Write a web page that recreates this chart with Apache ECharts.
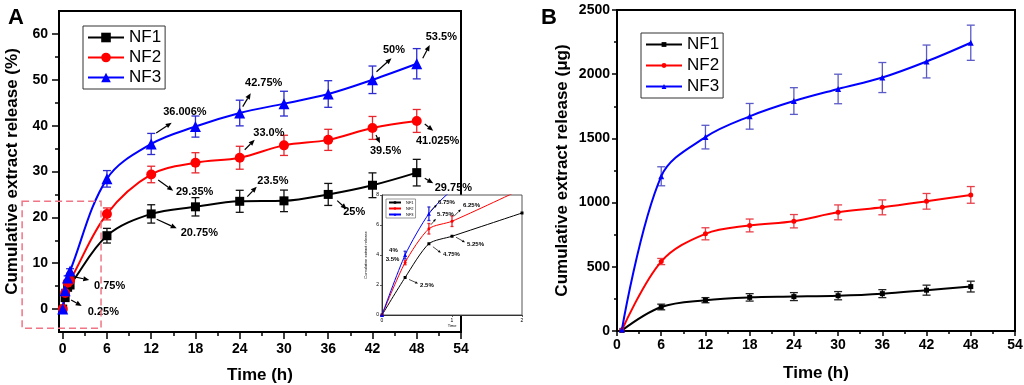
<!DOCTYPE html>
<html>
<head>
<meta charset="utf-8">
<title>Cumulative extract release</title>
<script src="https://cdn.jsdelivr.net/npm/echarts@6.0.0/dist/echarts.min.js"></script>
<style>
  html, body { margin: 0; padding: 0; background: #fff; }
  #chart { width: 1024px; height: 385px; }
</style>
</head>
<body>
<div id="chart"></div>
<script>
// panel A (%)
const timeA = [0, 0.33, 0.67, 1, 6, 12, 18, 24, 30, 36, 42, 48];
const nf1A = [0, 2.5, 4.75, 5.25, 16, 20.75, 22.3, 23.5, 23.6, 25, 27, 29.75];
const nf2A = [0, 3.5, 5.75, 6.25, 20.75, 29.35, 31.9, 33.0, 35.7, 36.9, 39.5, 41.025];
const nf3A = [0, 4, 6.75, 8.3, 28.4, 36.006, 39.8, 42.75, 44.8, 46.9, 50, 53.5];
const nf1AErr = [0, 0.3, 0.3, 0.4, 1.6, 2.0, 2.0, 2.4, 2.35, 2.4, 2.7, 2.9];
const nf2AErr = [0, 0.3, 0.4, 0.4, 1.3, 1.8, 2.2, 2.5, 2.2, 2.3, 2.5, 2.5];
const nf3AErr = [0, 0.3, 0.5, 0.5, 1.8, 2.3, 2.3, 2.8, 2.7, 2.9, 3.0, 3.3];
const xTicksA = [0, 6, 12, 18, 24, 30, 36, 42, 48, 54];
const xMinorA = [3, 9, 15, 21, 27, 33, 39, 45, 51];
const yTicksA = [0, 10, 20, 30, 40, 50, 60];
const yMinorA = [5, 15, 25, 35, 45, 55];
const zoomBoxA = [[-5.5, 23.5], [5.2, -4.2]];
const notesA = [
  [12, 36, '36.006%'], [24, 42.75, '42.75%'], [42, 50, '50%'], [48, 53.5, '53.5%'],
  [24, 33, '33.0%'], [42, 39.5, '39.5%'], [48, 41.025, '41.025%'], [12, 29.35, '29.35%'],
  [24, 23.5, '23.5%'], [12, 20.75, '20.75%'], [36, 25, '25%'], [48, 29.75, '29.75%'],
  [1, 5.25, '0.75%'], [0.33, 2.5, '0.25%']
];

// panel B (µg)
const timeB = [0.67, 6, 12, 18, 24, 30, 36, 42, 48];
const nf1B = [5, 187, 240, 262, 268, 275, 291, 318, 346];
const nf2B = [8, 541, 757, 822, 855, 924, 963, 1010, 1060];
const nf3B = [12, 1205, 1510, 1672, 1791, 1885, 1974, 2099, 2245];
const nf1BErr = [0, 22, 20, 29, 31, 32, 31, 39, 42];
const nf2BErr = [0, 24, 47, 50, 52, 58, 58, 61, 65];
const nf3BErr = [0, 74, 92, 100, 104, 115, 117, 128, 137];

// inset of panel A (first hour)
const timeIn = [0, 0.33, 0.67, 1, 2];
const nf1In = [0, 2.5, 4.75, 5.25, 6.8];
const nf2In = [0, 3.5, 5.75, 6.25, 8.4];
const nf3In = [0, 4, 6.75, 8.3, 11];
const nf2InErr = [0, 0.15, 0.35, 0.35, 0];
const nf3InErr = [0, 0.25, 0.45, 0, 0];
const notesIn = [
  [0.33, 2.5, '2.5%'], [0.67, 4.75, '4.75%'], [1, 5.25, '5.25%'], [0.33, 3.5, '3.5%'],
  [0.33, 4, '4%'], [0.67, 5.75, '5.75%'], [0.67, 6.75, '6.75%'], [1, 6.25, '6.25%']
];

// pixel offsets of arrows / texts from their point: [ax1, ay1, ax2, ay2, tx, ty]
const notesALayout = [
  [5, -11, 20.5, -21.3, 12, -32], [3, -6.4, 11, -19.8, 5.3, -30.4],
  [4, -8, 19, -21.5, 10.5, -29.8], [6, -5.4, 13, -18.7, 9, -27],
  [5, -8, 15, -18, 13.6, -24.5], [3.5, 7, 7.5, 15.4, -2.5, 22.8],
  [8, 3, 16.5, 9.7, -0.8, 19.7], [7, 5.5, 22, 16.2, 24.8, 17.2],
  [7.6, -4.6, 17, -14.6, 17.6, -20.3], [5.5, 5.4, 25.5, 14.4, 29.5, 18.8],
  [9, 6.2, 18.5, 14.8, 15, 17.8], [8, 5.6, 16.5, 10.6, 18, 15],
  [3.2, -8.3, 19.2, -5, 24, 1], [6, 2.4, 16.6, 8.4, 22.6, 14.7]
];
const notesInLayout = [
  [4, 2, 13, 6, 15, 7.5], [4, 3, 12, 9, 14, 11], [4, 1, 13, 6, 15, 8],
  [0, 0, 0, 0, -19.4, -3.2], [0, 0, 0, 0, -16, -5],
  [2, -4, 7, -10, 8, -14], [2, -3, 8, -9, 9, -11], [2, -5, 9, -12, 11, -15.5]
];

const FONT = '"Liberation Sans", Arial, sans-serif';
const pairs = (xs, ys) => xs.map((x, i) => [x, ys[i]]);

function arrow(x1, y1, x2, y2, head, lw) {
  const ang = Math.atan2(y2 - y1, x2 - x1);
  const bx = x2 - head * Math.cos(ang), by = y2 - head * Math.sin(ang);
  const w = head * 0.42;
  const px = -Math.sin(ang) * w, py = Math.cos(ang) * w;
  return [
    { type: 'line', shape: { x1: x1, y1: y1, x2: bx, y2: by }, style: { stroke: '#000', lineWidth: lw } },
    { type: 'polygon', shape: { points: [[x2, y2], [bx + px, by + py], [bx - px, by - py]] }, style: { fill: '#000' } }
  ];
}

function lineSeries(name, data, color, symbol, size, axis, z, smooth, width) {
  return {
    name: name, type: 'line', xAxisIndex: axis, yAxisIndex: axis, z: z,
    data: data, smooth: smooth, symbol: symbol, symbolSize: size,
    lineStyle: { color: color, width: width }, itemStyle: { color: color },
    emphasis: { disabled: true }, animation: false
  };
}

function errorBars(xs, ys, es, color, axis, cap, z) {
  const data = [];
  xs.forEach((x, i) => { if (es[i] > 0) data.push([x, ys[i] - es[i], ys[i] + es[i]]); });
  return {
    type: 'custom', xAxisIndex: axis, yAxisIndex: axis, z: z, silent: true, animation: false,
    data: data,
    renderItem: function (params, api) {
      const lo = api.coord([api.value(0), api.value(1)]);
      const hi = api.coord([api.value(0), api.value(2)]);
      const st = { stroke: color, lineWidth: 1.3 };
      return { type: 'group', children: [
        { type: 'line', shape: { x1: lo[0], y1: lo[1], x2: hi[0], y2: hi[1] }, style: st },
        { type: 'line', shape: { x1: lo[0] - cap, y1: lo[1], x2: lo[0] + cap, y2: lo[1] }, style: st },
        { type: 'line', shape: { x1: hi[0] - cap, y1: hi[1], x2: hi[0] + cap, y2: hi[1] }, style: st }
      ] };
    }
  };
}

function notesSeries(notes, layout, axis, fontSize, head, z) {
  return {
    type: 'custom', xAxisIndex: axis, yAxisIndex: axis, z: z, silent: true, clip: false, animation: false,
    data: notes.map(n => [n[0], n[1]]),
    renderItem: function (params, api) {
      const p = api.coord([api.value(0), api.value(1)]);
      const l = layout[params.dataIndex];
      let kids = [];
      if (l[0] !== l[2] || l[1] !== l[3]) kids = arrow(p[0] + l[0], p[1] + l[1], p[0] + l[2], p[1] + l[3], head, head > 4 ? 1.2 : 0.7);
      kids.push({ type: 'text', x: p[0] + l[4], y: p[1] + l[5], style: {
        text: notes[params.dataIndex][2], fill: '#000', font: 'bold ' + fontSize + 'px ' + FONT,
        align: 'left', verticalAlign: 'middle' } });
      return { type: 'group', children: kids };
    }
  };
}

const axisText = { color: '#000', fontFamily: FONT, fontWeight: 'bold', fontSize: 14 };
const nameText = { color: '#000', fontFamily: FONT, fontWeight: 'bold', fontSize: 17 };
const blackLine = { color: '#000', width: 2 };
const plain = v => String(v);

const chart = echarts.init(document.getElementById('chart'));
chart.setOption({
  backgroundColor: '#fff',
  animation: false,
  textStyle: { fontFamily: FONT },
  title: [
    { text: 'A', left: 3, top: 2, textStyle: { fontSize: 22, fontWeight: 'bold', color: '#000', fontFamily: FONT } },
    { text: 'B', left: 536, top: 2, textStyle: { fontSize: 22, fontWeight: 'bold', color: '#000', fontFamily: FONT } }
  ],
  grid: [
    { left: 59, top: 11, width: 402, height: 321, outerBoundsMode: 'none', show: true, borderColor: '#000', borderWidth: 2 },
    { left: 617, top: 10, width: 398, height: 321, outerBoundsMode: 'none', show: true, borderColor: '#000', borderWidth: 2 },
    { left: 382, top: 195, width: 140, height: 120, outerBoundsMode: 'none', show: true, backgroundColor: '#fff', borderColor: '#555', borderWidth: 1, z: 10 }
  ],
  legend: [
    { data: ['NF1', 'NF2', 'NF3'], orient: 'vertical', left: 83, top: 26, selectedMode: false,
      itemWidth: 36, itemHeight: 12, itemGap: 1, padding: [2, 4, 2, 4],
      borderColor: '#333', borderWidth: 1, textStyle: { fontSize: 17, color: '#000', fontFamily: FONT, lineHeight: 19 } },
    { data: ['NF1', 'NF2', 'NF3'], orient: 'vertical', left: 641, top: 33, selectedMode: false,
      itemWidth: 36, itemHeight: 6, itemGap: 2, padding: [2, 4, 2, 4],
      borderColor: '#333', borderWidth: 1, textStyle: { fontSize: 17, color: '#000', fontFamily: FONT, lineHeight: 19 } },
    { data: ['NF1', 'NF2', 'NF3'], orient: 'vertical', left: 386, top: 199, selectedMode: false, z: 13,
      itemWidth: 12, itemHeight: 3, itemGap: 1, padding: [1, 2, 1, 2],
      borderColor: '#555', borderWidth: 0.6, textStyle: { fontSize: 4, color: '#000', fontFamily: FONT, lineHeight: 5 } }
  ],
  xAxis: [
    { type: 'value', gridIndex: 0, position: 'bottom', min: -0.5, max: 54, name: 'Time (h)', nameLocation: 'middle', nameGap: 35, nameTextStyle: nameText,
      axisLine: { show: true, onZero: false, lineStyle: blackLine }, splitLine: { show: false },
      axisTick: { customValues: xTicksA, length: 7, lineStyle: { color: '#000', width: 1.5 } },
      axisLabel: { customValues: xTicksA, margin: 10, ...axisText } },
    { type: 'value', gridIndex: 0, position: 'bottom', min: -0.5, max: 54, axisLine: { show: false, onZero: false }, splitLine: { show: false },
      axisTick: { customValues: xMinorA, length: 4, lineStyle: { color: '#000', width: 1.5 } }, axisLabel: { show: false } },
    { type: 'value', gridIndex: 1, position: 'bottom', min: 0, max: 54, interval: 6, name: 'Time (h)', nameLocation: 'middle', nameGap: 34, nameTextStyle: nameText,
      axisLine: { show: true, onZero: false, lineStyle: blackLine }, splitLine: { show: false },
      axisTick: { length: 5, lineStyle: { color: '#000', width: 1.5 } },
      minorTick: { show: true, splitNumber: 2, length: 3, lineStyle: { color: '#000', width: 1.5 } },
      axisLabel: { margin: 7, formatter: plain, ...axisText } },
    { type: 'value', gridIndex: 2, position: 'bottom', min: 0, max: 2, interval: 1, z: 11, name: 'Time', nameLocation: 'middle', nameGap: 9,
      nameTextStyle: { fontSize: 4, color: '#000' },
      axisLine: { show: true, onZero: false, lineStyle: { color: '#333', width: 1 } }, splitLine: { show: false },
      axisTick: { length: 2, lineStyle: { color: '#333', width: 0.8 } },
      axisLabel: { margin: 3, fontSize: 5, color: '#000', fontFamily: FONT } }
  ],
  yAxis: [
    { type: 'value', gridIndex: 0, position: 'left', min: -5, max: 65, name: 'Cumulative extract release (%)', nameLocation: 'middle', nameGap: 38, nameTextStyle: nameText,
      axisLine: { show: true, onZero: false, lineStyle: blackLine }, splitLine: { show: false },
      axisTick: { customValues: yTicksA, length: 7, lineStyle: { color: '#000', width: 1.5 } },
      axisLabel: { customValues: yTicksA, margin: 11, ...axisText } },
    { type: 'value', gridIndex: 0, position: 'left', min: -5, max: 65, axisLine: { show: false, onZero: false }, splitLine: { show: false },
      axisTick: { customValues: yMinorA, length: 4, lineStyle: { color: '#000', width: 1.5 } }, axisLabel: { show: false } },
    { type: 'value', gridIndex: 1, position: 'left', min: 0, max: 2500, interval: 500, name: 'Cumulative extract release (μg)', nameLocation: 'middle', nameGap: 46, nameTextStyle: nameText,
      axisLine: { show: true, onZero: false, lineStyle: blackLine }, splitLine: { show: false },
      axisTick: { length: 5, lineStyle: { color: '#000', width: 1.5 } },
      minorTick: { show: true, splitNumber: 2, length: 3, lineStyle: { color: '#000', width: 1.5 } },
      axisLabel: { margin: 7, formatter: plain, ...axisText } },
    { type: 'value', gridIndex: 2, position: 'left', min: 0, max: 8, interval: 2, z: 11, name: 'Cumulative extract release', nameLocation: 'middle', nameGap: 14,
      nameTextStyle: { fontSize: 4, color: '#000' },
      axisLine: { show: true, onZero: false, lineStyle: { color: '#333', width: 1 } }, splitLine: { show: false },
      axisTick: { length: 2, lineStyle: { color: '#333', width: 0.8 } },
      axisLabel: { margin: 3, fontSize: 5, color: '#000', fontFamily: FONT } }
  ],
  series: [
    lineSeries('NF1', pairs(timeA, nf1A), '#000000', 'rect', 9, 0, 3, 0.35, 2),
    lineSeries('NF2', pairs(timeA, nf2A), '#ff0000', 'circle', 10, 0, 3, 0.35, 2),
    lineSeries('NF3', pairs(timeA, nf3A), '#0000ff', 'triangle', 11, 0, 3, 0.35, 2),
    errorBars(timeA, nf1A, nf1AErr, '#111111', 0, 4, 2),
    errorBars(timeA, nf2A, nf2AErr, '#e8262d', 0, 4, 2),
    errorBars(timeA, nf3A, nf3AErr, '#2b2bd0', 0, 4, 2),
    notesSeries(notesA, notesALayout, 0, 11, 6, 5),
    {
      type: 'custom', xAxisIndex: 0, yAxisIndex: 0, z: 5, silent: true, clip: false, animation: false,
      data: [[zoomBoxA[0][0], zoomBoxA[0][1], zoomBoxA[1][0], zoomBoxA[1][1]]],
      renderItem: function (params, api) {
        const a = api.coord([api.value(0), api.value(1)]);
        const b = api.coord([api.value(2), api.value(3)]);
        return { type: 'rect', shape: { x: a[0], y: a[1], width: b[0] - a[0], height: b[1] - a[1] },
          style: { fill: null, stroke: '#f07585', lineWidth: 1.5, lineDash: [7, 4] } };
      }
    },

    lineSeries('NF1', pairs(timeB, nf1B), '#000000', 'rect', 5, 2, 3, 0.35, 2),
    lineSeries('NF2', pairs(timeB, nf2B), '#ff0000', 'circle', 5, 2, 3, 0.35, 2),
    lineSeries('NF3', pairs(timeB, nf3B), '#0000ff', 'triangle', 6, 2, 3, 0.35, 2),
    errorBars(timeB, nf1B, nf1BErr, '#222222', 2, 4, 2),
    errorBars(timeB, nf2B, nf2BErr, '#e8404a', 2, 4, 2),
    errorBars(timeB, nf3B, nf3BErr, '#5a5ac8', 2, 4, 2),

    lineSeries('NF1', pairs(timeIn, nf1In), '#000000', 'rect', 3, 3, 12, 0.25, 1),
    lineSeries('NF2', pairs(timeIn, nf2In), '#ff0000', 'circle', 3, 3, 12, 0.25, 1),
    lineSeries('NF3', pairs(timeIn, nf3In), '#0000ff', 'triangle', 4, 3, 12, 0.25, 1),
    errorBars(timeIn, nf2In, nf2InErr, '#e8262d', 3, 1.5, 12),
    errorBars(timeIn, nf3In, nf3InErr, '#2b2bd0', 3, 1.5, 12),
    notesSeries(notesIn, notesInLayout, 3, 6, 3, 13)
  ]
});
</script>
</body>
</html>
